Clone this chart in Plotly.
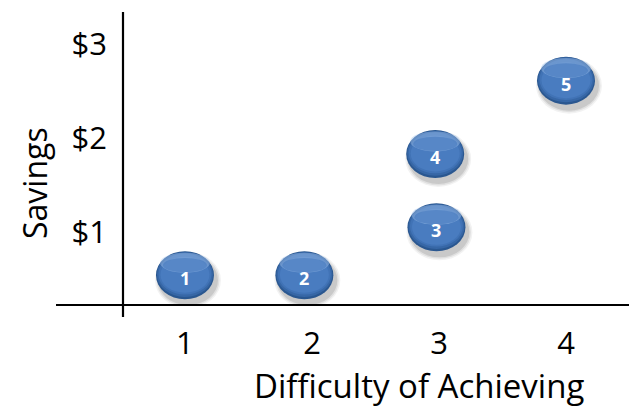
import plotly.graph_objects as go

# Initiatives: difficulty of achieving vs. savings
labels = ["1", "2", "3", "4", "5"]
difficulty = [1.0, 1.94, 2.98, 2.97, 4.0]
savings = [0.54, 0.54, 1.05, 1.83, 2.61]

x_ticks = [1, 2, 3, 4]
y_ticks = [1, 2, 3]
y_tick_text = ["$1", "$2", "$3"]

W, H = 629, 408
M = dict(l=123, r=0, t=12, b=103)
X_RANGE = [0.512, 4.496]
Y_RANGE = [0.2234, 3.340]

plot_w = W - M["l"] - M["r"]
plot_h = H - M["t"] - M["b"]
dx = (X_RANGE[1] - X_RANGE[0]) / plot_w  # data units per pixel
dy = (Y_RANGE[1] - Y_RANGE[0]) / plot_h

FONT = "Open Sans"
BW, BH = 58, 48  # bubble size in pixels


def ellipse(cx, cy, w, h, color, ox=0.0, oy=0.0):
    """Ellipse centred on a data point, sized and offset in pixels."""
    x0 = cx + (ox - w / 2) * dx
    x1 = cx + (ox + w / 2) * dx
    y0 = cy - (oy + h / 2) * dy
    y1 = cy - (oy - h / 2) * dy
    return dict(type="circle", xref="x", yref="y", x0=x0, x1=x1, y0=y0, y1=y1,
                fillcolor=color, line=dict(width=0), layer="above")


shapes = []
for cx, cy in zip(difficulty, savings):
    # soft drop shadow
    for grow, a in [(8, 0.05), (5, 0.07), (2, 0.10)]:
        shapes.append(ellipse(cx, cy, BW + grow, BH + grow, f"rgba(0,0,0,{a})", ox=3, oy=5))
    # body with darker rim
    shapes.append(ellipse(cx, cy, BW, BH, "#2a5790"))
    shapes.append(ellipse(cx, cy, BW - 2, BH - 3, "#3767a6", oy=-0.8))
    shapes.append(ellipse(cx, cy, BW - 5, BH - 7, "#4173b6", oy=-1.2))
    shapes.append(ellipse(cx, cy, BW - 9, BH - 12, "#497cc0", oy=-0.5))
    # glossy top highlight
    shapes.append(ellipse(cx, cy, BW - 8, BH * 0.42, "rgba(160,192,236,0.45)", oy=-BH * 0.26))
    shapes.append(ellipse(cx, cy, BW - 14, BH * 0.30, "rgba(73,124,192,0.65)", oy=-BH * 0.21))

# axis lines (x extends left of the y axis, y extends below the x axis)
x_left_ext = -(M["l"] - 56) / plot_w
y_low_ext = -12 / plot_h
shapes.append(dict(type="line", xref="paper", yref="paper", x0=x_left_ext, x1=1, y0=0, y1=0,
                   line=dict(color="black", width=2.2), layer="above"))
shapes.append(dict(type="line", xref="paper", yref="paper", x0=0, x1=0, y0=y_low_ext, y1=1,
                   line=dict(color="black", width=2.2), layer="above"))

annotations = [
    dict(x=cx, y=cy, xref="x", yref="y", text=f"<b>{t}</b>", showarrow=False, yshift=-3,
         font=dict(family=FONT, size=18, color="white"))
    for cx, cy, t in zip(difficulty, savings, labels)
]
annotations.append(dict(text="Difficulty of Achieving", xref="paper", yref="paper",
                        x=(419 - M["l"]) / plot_w, y=-(386 - (H - M["b"])) / plot_h,
                        showarrow=False, xanchor="center", yanchor="middle",
                        font=dict(family=FONT, size=33, color="black")))
annotations.append(dict(text="Savings", xref="paper", yref="paper", textangle=-90,
                        x=-(M["l"] - 34) / plot_w, y=1 - (183 - M["t"]) / plot_h,
                        showarrow=False, xanchor="center", yanchor="middle",
                        font=dict(family=FONT, size=32, color="black")))

fig = go.Figure()
fig.add_trace(go.Scatter(x=difficulty, y=savings, mode="markers",
                         marker=dict(size=1, opacity=0), hoverinfo="skip", showlegend=False))

fig.update_layout(
    width=W, height=H, margin=M,
    paper_bgcolor="white", plot_bgcolor="white",
    shapes=shapes, annotations=annotations,
    xaxis=dict(range=X_RANGE, tickvals=x_ticks, ticktext=[str(v) for v in x_ticks],
               showgrid=False, zeroline=False, showline=False, ticks="",
               ticklabelstandoff=17, tickfont=dict(family=FONT, size=31, color="black")),
    yaxis=dict(range=Y_RANGE, tickvals=y_ticks, ticktext=y_tick_text,
               showgrid=False, zeroline=False, showline=False, ticks="",
               ticklabelstandoff=15, tickfont=dict(family=FONT, size=31, color="black")),
)

fig.write_html("out.html")
